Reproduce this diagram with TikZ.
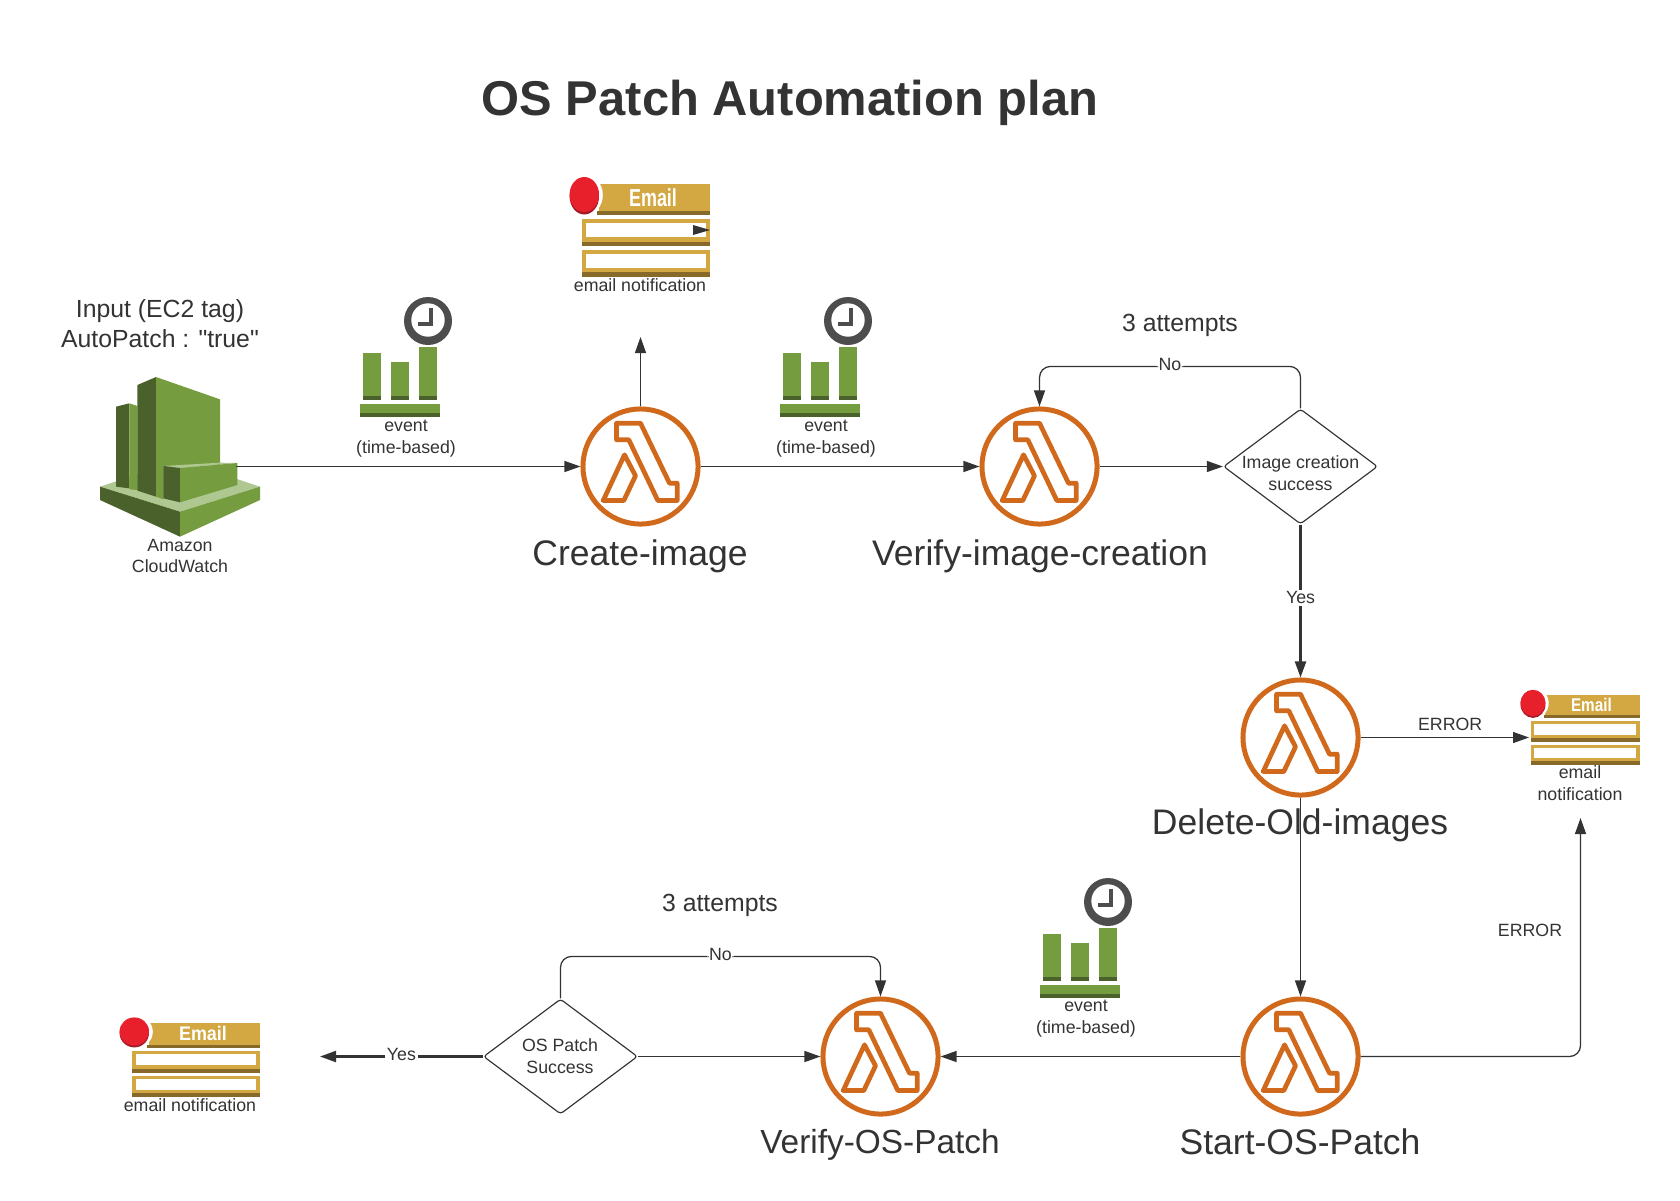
\documentclass[tikz,border=0pt]{standalone}
\usepackage{fontspec}
\setmainfont{Liberation Sans}[Ligatures=TeXOff]
\usepackage{tikz}
\usetikzlibrary{arrows.meta,shapes.geometric}
\definecolor{inkgray}{RGB}{51,51,51}
\definecolor{lambdaorange}{RGB}{209,105,29}
\definecolor{awsgreen}{RGB}{117,156,62}
\definecolor{awsdark}{RGB}{75,97,44}
\definecolor{awslight}{RGB}{175,200,145}
\definecolor{mailgold}{RGB}{211,167,65}
\definecolor{maildark}{RGB}{135,105,42}
\definecolor{mailred}{RGB}{232,32,44}
\definecolor{maildarkred}{RGB}{165,28,38}
\definecolor{clockgray}{RGB}{77,77,77}
\tikzset{
    flowline/.style={-{Triangle[length=.16cm,width=.11cm]}, inkgray, line width=.36pt},
    boldline/.style={flowline, line width=.62pt},
    lambdaring/.style={circle, draw=lambdaorange, line width=.05cm, minimum size=1.15cm, inner sep=0},
    decision/.style={diamond, draw=inkgray, line width=.33pt, rounded corners=.03cm, shape aspect=1.34, inner sep=0, minimum width=1.54cm, minimum height=1.15cm},
    smalltext/.style={text=inkgray, align=center, inner sep=0, font=\fontsize{5.05}{6.2}\selectfont},
    midtext/.style={text=inkgray, align=center, inner sep=0, font=\fontsize{7.05}{8.5}\selectfont},
    steptext/.style={text=inkgray, inner sep=0, font=\fontsize{10.1}{12}\selectfont},
    edgetext/.style={smalltext, fill=white, inner sep=.5pt},
    lambdaicon/.pic={
        \draw[lambdaorange, line width=.047cm, line join=round]
            (-24,-43.3) -- (0,-43.3) -- (29,16.7) -- (36.7,16.7) -- (36.7,34) -- (17.3,34) -- (-11.7,-26.7) -- (-24,-26.7) -- cycle;
        \draw[lambdaorange, line width=.047cm, line join=round]
            (-16,-11.7) -- (-5,9.3) -- (-16.7,34) -- (-37.3,34) -- cycle;
    },
    eventicon/.pic={
        % Bars
        \fill[awsgreen] (3,6) rectangle (21,53.3);
        \fill[awsgreen] (31,14.7) rectangle (49,53.3);
        \fill[awsgreen] (59,0) rectangle (77,53.3);
        \fill[awsdark] (3,49.3) rectangle (21,53.3);
        \fill[awsdark] (31,49.3) rectangle (49,53.3);
        \fill[awsdark] (59,49.3) rectangle (77,53.3);
        \fill[awsgreen] (0,56.7) rectangle (80,66);
        \fill[awsdark] (0,66) rectangle (80,70);
        % Clock
        \fill[white] (68,-26) circle (25.5);
        \fill[clockgray] (68,-26) circle (24);
        \fill[white] (68,-27) circle (16.7);
        \draw[clockgray, line width=.042cm] (70.7,-39.3) -- (70.7,-22.7) -- (58,-22.7);
    },
    emailicon/.pic={
        % Banner
        \fill[mailgold] (17,0) rectangle (128,27);
        \fill[maildark] (15.3,27) rectangle (128,31);
        \node[white, inner sep=0, xscale=.73, transform shape, font=\fontsize{7}{8}\selectfont\bfseries] (-title) at (71,13.5) {Email};
        % Badge
        \fill[white] (2.3,11) ellipse [x radius=18.5, y radius=21];
        \fill[maildarkred] (2.3,12.5) ellipse [x radius=14.7, y radius=18];
        \fill[mailred] (2.3,10.5) ellipse [x radius=14.7, y radius=17.5];
        % Fields
        \fill[mailgold] (0,35.3) rectangle (128,62);
        \fill[maildark] (0,57.7) rectangle (128,62);
        \fill[white] (4,39.3) rectangle (124,52.7);
        \fill[mailgold] (0,66) rectangle (128,92.7);
        \fill[maildark] (0,88) rectangle (128,92.7);
        \fill[white] (4,70) rectangle (124,84.3);
    }
}
\begin{document}
\begin{tikzpicture}[x=.01cm, y=-.01cm]
    \useasboundingbox (0,0) rectangle (1680,1200);

    % Title
    \node[text=inkgray, inner sep=0, font=\fontsize{13.9}{16}\selectfont\bfseries] (plantitle) at (790,103) {OS Patch Automation plan};

    % CloudWatch
    \begin{scope}[shift={(60,280)}, scale=1/3]
        \fill[awslight] (120,620) -- (360,540) -- (600,620) -- (360,695) -- cycle;
        \fill[awsdark] (120,620) -- (360,695) -- (360,770) -- (120,660) -- cycle;
        \fill[awsgreen] (360,695) -- (600,620) -- (600,660) -- (360,770) -- cycle;
        \fill[awsdark] (168,380) -- (208,370) -- (208,625) -- (168,620) -- cycle;
        \fill[awsgreen] (208,370) -- (232,378) -- (232,630) -- (208,628) -- cycle;
        \fill[awsdark] (232,315) -- (288,291) -- (288,650) -- (232,632) -- cycle;
        \fill[awsgreen] (288,291) -- (480,358) -- (480,555) -- (310,560) -- (310,658) -- (288,650) -- cycle;
        \fill[awslight] (310,558) -- (480,548) -- (532,549) -- (360,564) -- cycle;
        \fill[awsdark] (310,558) -- (360,564) -- (360,667) -- (310,655) -- cycle;
        \fill[awsgreen] (360,564) -- (532,549) -- (532,615) -- (360,667) -- cycle;
    \end{scope}
    \coordinate (cloudwatch) at (236,466.5);
    \node[smalltext] (cloudwatchlabel) at (180,556) {Amazon\\CloudWatch};
    \node[midtext] (inputlabel) at (160,324) {Input (EC2 tag)\\AutoPatch : "true"};

    % Lambdas
    \node[lambdaring] (createimage) at (640.5,466.5) {};
    \node[lambdaring] (verifyimage) at (1039.5,466.5) {};
    \node[lambdaring] (deleteimages) at (1300.5,737.5) {};
    \node[lambdaring] (startpatch) at (1300.5,1056.5) {};
    \node[lambdaring] (verifypatch) at (880.5,1056.5) {};
    \pic at (createimage) {lambdaicon};
    \pic at (verifyimage) {lambdaicon};
    \pic at (deleteimages) {lambdaicon};
    \pic at (startpatch) {lambdaicon};
    \pic at (verifypatch) {lambdaicon};
    \node[steptext] (createlabel) at (640,556) {Create-image};
    \node[steptext] (verifylabel) at (1040,556) {Verify-image-creation};
    \node[steptext] (deletelabel) at (1300,825) {Delete-Old-images};
    \node[steptext] (startlabel) at (1300,1142) {Start-OS-Patch};
    \node[steptext, font=\fontsize{9.5}{12}\selectfont] (patchlabel) at (880,1145) {Verify-OS-Patch};

    % Decisions
    \node[decision] (imagecheck) at (1300.5,466.5) {};
    \node[decision] (patchcheck) at (560.5,1056.5) {};
    \node[smalltext] (imagechecktext) at (1300.5,473) {Image creation\\success};
    \node[smalltext] (patchchecktext) at (560,1056) {OS Patch\\Success};

    % Events
    \pic at (360,347) {eventicon};
    \pic at (780,347) {eventicon};
    \pic at (1040,928) {eventicon};
    \node[smalltext] (eventa) at (406,438.5) {event\\(time-based)};
    \node[smalltext] (eventb) at (826,438.5) {event\\(time-based)};
    \node[smalltext] (eventc) at (1086,1018.5) {event\\(time-based)};

    % Emails
    \pic at (582,184) {emailicon};
    \pic[xscale=1, yscale=.8] at (132,1023) {emailicon};
    \pic[xscale=.85, yscale=.75] at (1531,695) {emailicon};
    \fill[inkgray] (693,225) -- (710,230) -- (693,235) -- cycle;
    \node[smalltext] (maillabela) at (640,285) {email notification};
    \node[smalltext] (maillabelb) at (190,1105) {email notification};
    \node[smalltext] (maillabelc) at (1580,783) {email\\notification};

    % Free ends
    \coordinate (createout) at (640.5,337);
    \coordinate (deleteout) at (1529,737.5);
    \coordinate (startout) at (1580.5,818);
    \coordinate (patchout) at (320,1056.5);

    % Top row
    \draw[flowline] (cloudwatch) -- (createimage);
    \draw[flowline] (createimage) -- (createout);
    \draw[flowline] (createimage) -- (verifyimage);
    \draw[flowline] (verifyimage) -- (imagecheck);
    \draw[flowline, rounded corners=.11cm] (imagecheck.north) -- ++(0,-42) -| (verifyimage.north) node[edgetext, pos=.25, yshift=.5pt] (nolabela) {No};
    \node[midtext] (attemptsa) at (1180,325) {3 attempts};

    % Right side
    \draw[boldline] (imagecheck) -- (deleteimages) node[edgetext, midway, yshift=.9pt] (yeslabela) {Yes};
    \draw[flowline] (deleteimages) -- (deleteout) node[smalltext, midway, above=1.8pt, xshift=.054cm] (errorlabela) {ERROR};
    \draw[flowline] (deleteimages) -- (startpatch);
    \draw[flowline, rounded corners=.11cm] (startpatch) -| (startout);
    \node[smalltext] (errorlabelb) at (1530,930) {ERROR};

    % Bottom row
    \draw[flowline] (startpatch) -- (verifypatch);
    \draw[flowline] (patchcheck) -- (verifypatch);
    \draw[flowline, rounded corners=.11cm] (patchcheck.north) -- ++(0,-42) -| (verifypatch.north) node[edgetext, pos=.25, yshift=.5pt] (nolabelb) {No};
    \draw[boldline] (patchcheck) -- (patchout) node[edgetext, midway, yshift=.5pt] (yeslabelb) {Yes};
    \node[midtext] (attemptsb) at (720,905) {3 attempts};
\end{tikzpicture}
\end{document}
